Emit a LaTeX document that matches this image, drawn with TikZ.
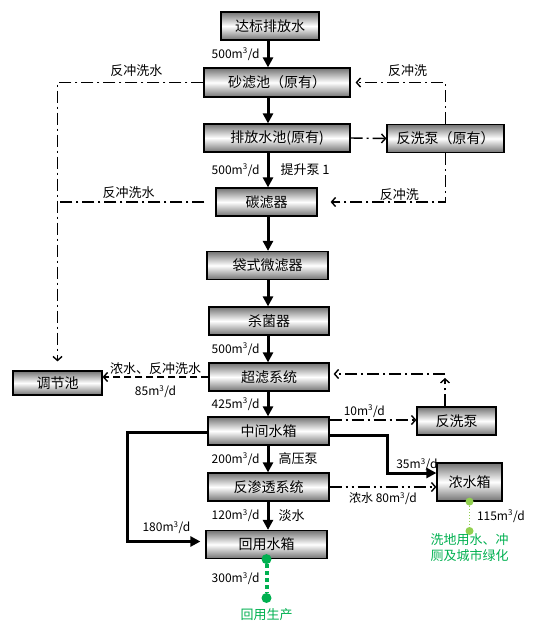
\documentclass[tikz,border=0pt]{standalone}
\usepackage{fontspec}
\setmainfont{Noto Sans CJK SC}
\usetikzlibrary{arrows.meta}
\definecolor{leafgreen}{HTML}{00B050}
\definecolor{limegreen}{HTML}{92D050}
\newcommand{\flux}[1]{#1m\textsuperscript{3}/d}
\tikzset{
  stage/.style={draw, line width=1.2pt, top color=black!55, bottom color=black!55, middle color=white,
    minimum height=28pt, inner sep=0pt, font=\fontsize{14}{14}\selectfont},
  flow/.style={line width=3pt, -{Triangle[length=10pt,width=10pt]}},
  wash/.style={line width=1.4pt, dash pattern=on 12pt off 4pt on 2pt off 4pt, -{Straight Barb[length=4pt,width=9pt]}},
  drain/.style={line width=1.4pt, dash pattern=on 12pt off 4pt on 2pt off 4pt on 2pt off 4pt, -{Straight Barb[length=4pt,width=9pt]}},
  purge/.style={line width=1.4pt, dash pattern=on 7pt off 4pt, -{Straight Barb[length=4pt,width=9pt]}},
  lbl/.style={font=\fontsize{13}{13}\selectfont, inner sep=1pt},
  num/.style={font=\fontsize{12}{13}\selectfont, inner sep=1pt},
  gdot/.style={circle, fill=leafgreen, minimum size=10pt, inner sep=0pt},
  ldot/.style={circle, fill=limegreen, minimum size=8pt, inner sep=0pt}
}

\begin{document}
\begin{tikzpicture}[x=1pt,y=-1pt]
  \useasboundingbox (0,0) rectangle (550,635);
  \coordinate (axis) at (268,0);
  \node[stage,minimum width=98pt] (src) at (270,26) {达标排放水};
  \node[stage,minimum width=146pt,minimum height=29pt] (sand) at (277,82.5) {砂滤池（原有）};
  \node[stage,minimum width=146pt] (pool) at (277,138) {排放水池(原有)};
  \node[stage,minimum width=117pt] (pumpa) at (445.5,138.5) {反洗泵（原有）};
  \node[stage,minimum width=101pt] (carbon) at (266.5,202) {碳滤器};
  \node[stage,minimum width=121pt] (bag) at (267.5,265.5) {袋式微滤器};
  \node[stage,minimum width=120pt] (steril) at (269,321) {杀菌器};
  \node[stage,minimum width=120pt] (uf) at (269,377) {超滤系统};
  \node[stage,minimum width=121pt] (mid) at (268.5,431) {中间水箱};
  \node[stage,minimum width=121pt] (ro) at (268.5,487) {反渗透系统};
  \node[stage,minimum width=121pt] (reuse) at (266.5,544.5) {回用水箱};
  \node[stage,minimum width=89pt,minimum height=24pt] (adj) at (57.5,383) {调节池};
  \node[stage,minimum width=79pt] (pumpb) at (456.5,421) {反洗泵};
  \node[stage,minimum width=65pt,minimum height=38pt] (conc) at (469.5,482) {浓水箱};

  \path[flow]
    (src.south -| axis) edge node[num,left=6pt] {\flux{500}} (sand.north -| axis)
    (sand.south -| axis) edge (pool.north -| axis)
    (pool.south -| axis) edge node[num,left=6pt] {\flux{500}} node[lbl,right=10pt] {提升泵 1} (carbon.north -| axis)
    (carbon.south -| axis) edge (bag.north -| axis)
    (bag.south -| axis) edge (steril.north -| axis)
    (steril.south -| axis) edge node[num,left=6pt] {\flux{500}} (uf.north -| axis)
    (uf.south -| axis) edge node[num,left=6pt] {\flux{425}} (mid.north -| axis)
    (mid.south -| axis) edge node[num,left=6pt] {\flux{200}} node[lbl,right=8pt] {高压泵} (ro.north -| axis)
    (ro.south -| axis) edge node[num,left=6pt] {\flux{120}} node[lbl,right=8pt] {淡水} (reuse.north -| axis);

  \draw[wash] (pool.east) -- (pumpa.west);
  \draw[wash,shorten >=5pt] (pumpa.north) |- (sand.east) node[lbl,pos=0.7,above=4pt] {反冲洗};
  \draw[wash,shorten >=13pt] (pumpa.south) |- (carbon.east) node[lbl,pos=0.68,above=0pt] {反冲洗};
  \draw[wash,shorten >=9pt] (sand.west) -| (adj.north) node[lbl,pos=0.23,above=4pt] {反冲洗水};
  \draw[wash,-,shorten <=11pt] (carbon.west) -- (carbon.west -| adj.north) node[lbl,pos=0.55,above=2pt] {反冲洗水};
  \draw[purge] (uf.west) -- (uf.west -| adj.east) node[lbl,midway,above=1pt] {浓水、反冲洗水} node[num,midway,below=7pt] {\flux{85}};

  \coordinate (turn) at (445,374);
  \draw[wash,shorten >=4pt] (pumpb.north -| turn) -- (turn);
  \draw[wash,shorten >=4pt] (turn) -- (uf.east |- turn);
  \draw[wash] ([yshift=11pt]mid.east) -- ([yshift=11pt]mid.east -| pumpb.west) node[num,pos=0.4,above=1pt] {\flux{10}};
  \draw[flow] ([yshift=-4pt]mid.east) -- ++(58,0) |- ([yshift=9pt]conc.west) node[num,pos=0.8,above=0pt] {\flux{35}};
  \draw[drain] (ro.east) -- (ro.east -| conc.west) node[num,midway,below=4pt] {浓水 80m\textsuperscript{3}/d};
  \draw[flow,shorten >=5pt] ([yshift=-1pt]mid.west) -- ++(-80,0) |- ([yshift=3pt]reuse.west) node[num,pos=0.75,above=5pt] {\flux{180}};

  \node[gdot] (d1) at (reuse.south) {};
  \node[gdot] (d2) at (266.5,598) {};
  \draw[leafgreen,line width=4pt,dash pattern=on 4pt off 3pt] (d1) -- (d2) node[num,midway,left=4pt,text=black] {\flux{300}};
  \node[lbl,text=leafgreen,below=9pt] (use1) at (d2) {回用生产};

  \node[ldot] (e1) at (conc.south) {};
  \node[ldot] (e2) at (469.5,531) {};
  \draw[limegreen,line width=1pt,dotted] (e1) -- (e2) node[num,midway,right=6pt,text=black] {\flux{115}};
  \node[lbl,text=leafgreen,align=center,below=1pt,font=\fontsize{13}{16}\selectfont] (use2) at (e2) {洗地用水、冲\\厕及城市绿化};
\end{tikzpicture}
\end{document}
